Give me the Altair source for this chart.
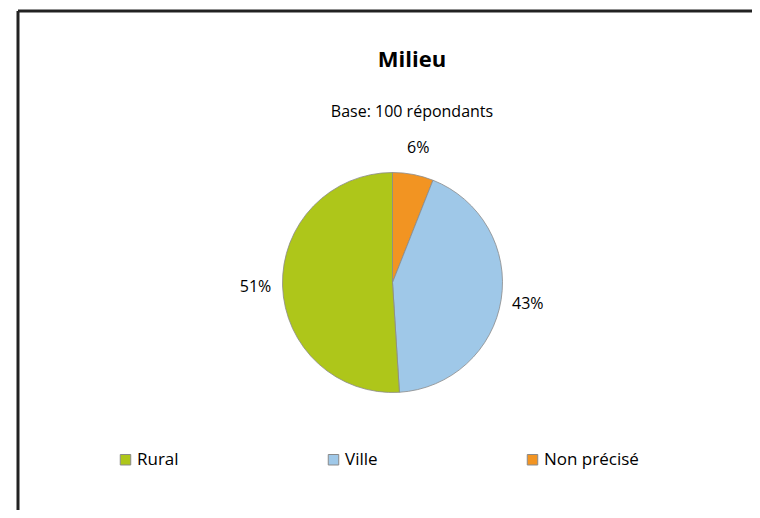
import altair as alt
import pandas as pd

categories = ["Non précisé", "Ville", "Rural"]
values = [6, 43, 51]
labels = ["6%", "43%", "51%"]
order = [0, 1, 2]
legend_order = ["Rural", "Ville", "Non précisé"]
colors = ["#AEC61A", "#9FC8E8", "#F29422"]

df = pd.DataFrame({"cat": categories, "val": values, "lab": labels, "ord": order})

FONT = "Open Sans"
W, H = 734, 499
CX, CY = 374.5, 271.5

color = alt.Color(
    "cat:N",
    scale=alt.Scale(domain=legend_order, range=colors),
    legend=alt.Legend(
        title=None, orient="none", direction="horizontal",
        legendX=99, legendY=440,
        symbolType="square", symbolSize=110, symbolStrokeColor="#8a8a8a",
        symbolStrokeWidth=1, symbolOpacity=1,
        labelFont=FONT, labelFontSize=17, labelColor="#000000", labelOffset=3,
        columnPadding=146, labelLimit=200,
    ),
)

base = alt.Chart(df).encode(
    theta=alt.Theta("val:Q", stack=True),
    order=alt.Order("ord:Q"),
)

pie = base.mark_arc(outerRadius=110, stroke="#8a8a8a", strokeWidth=0.8).encode(
    color=color, x=alt.value(CX), y=alt.value(CY)
)

txt = base.mark_text(radius=137, font=FONT, fontSize=16, color="#000000").encode(
    text="lab:N", x=alt.value(CX), y=alt.value(CY)
)

title = alt.Chart(pd.DataFrame({"t": ["Milieu"]})).mark_text(
    font=FONT, fontSize=22, fontWeight="bold", color="#000000", baseline="middle"
).encode(text="t:N", x=alt.value(394), y=alt.value(49))

subtitle = alt.Chart(pd.DataFrame({"t": ["Base: 100 répondants"]})).mark_text(
    font=FONT, fontSize=16, color="#000000", baseline="middle"
).encode(text="t:N", x=alt.value(394), y=alt.value(101))

frame_top = alt.Chart(pd.DataFrame({"a": [0]})).mark_rule(color="#222222", strokeWidth=3).encode(
    x=alt.value(0), x2=alt.value(W), y=alt.value(0)
)
frame_left = alt.Chart(pd.DataFrame({"a": [0]})).mark_rule(color="#222222", strokeWidth=3).encode(
    x=alt.value(0), y=alt.value(0), y2=alt.value(H)
)

chart = alt.layer(pie, txt, title, subtitle, frame_top, frame_left).properties(
    width=W, height=H,
    autosize=alt.AutoSizeParams(type="none"),
    padding={"left": 10, "top": 3, "right": 0, "bottom": 0},
).configure_view(stroke="transparent", strokeWidth=0).configure(background="white")

chart.save("out.html", embed_options={"renderer": "svg", "actions": False})
